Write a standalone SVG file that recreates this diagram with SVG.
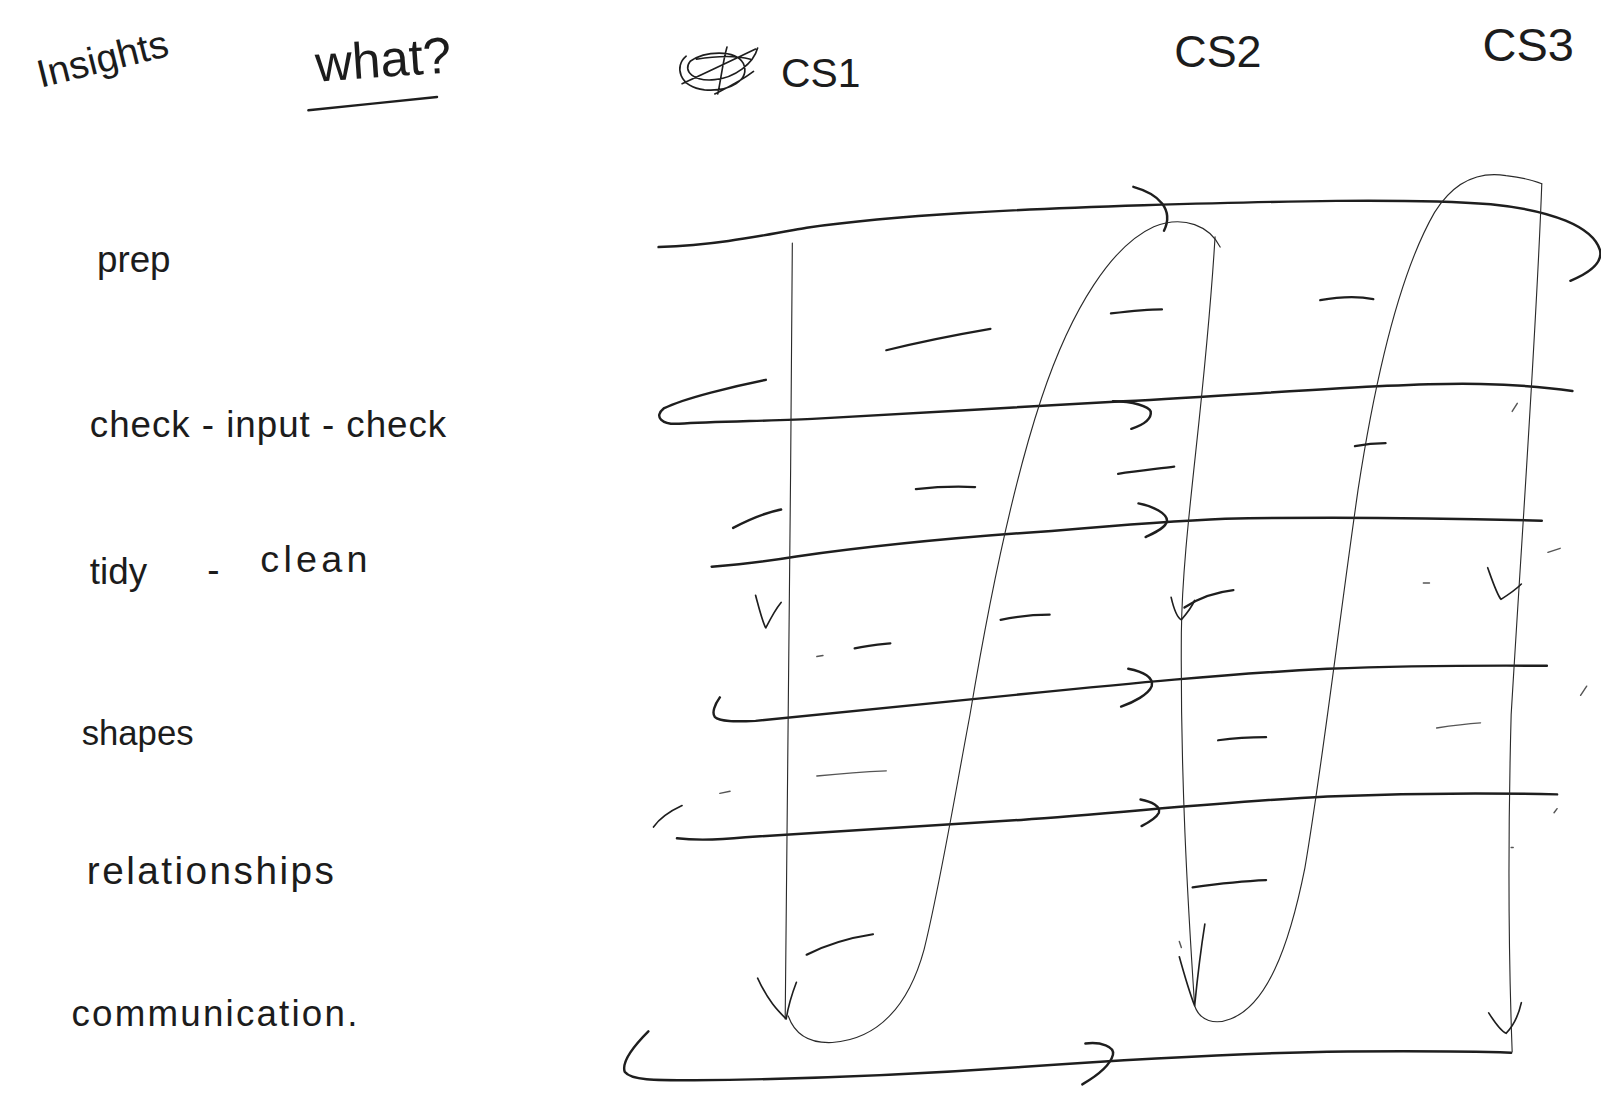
<svg xmlns="http://www.w3.org/2000/svg" width="1601" height="1117" viewBox="0 0 1601 1117">
<style>
.lbl{font-family:"Liberation Sans","DejaVu Sans",sans-serif;fill:#1c1c1c}
.thick{fill:none;stroke:#1e1e1e;stroke-width:2.4;stroke-linecap:round;stroke-linejoin:round}
.thin{fill:none;stroke:#2a2a2a;stroke-width:1.1;stroke-linecap:round;stroke-linejoin:round}
.mid{fill:none;stroke:#1e1e1e;stroke-width:1.6;stroke-linecap:round;stroke-linejoin:round}
.dash{fill:none;stroke:#1e1e1e;stroke-width:2.2;stroke-linecap:round}
.faint{fill:none;stroke:#555;stroke-width:1.4;stroke-linecap:round}
</style>
<rect width="1601" height="1117" fill="#ffffff"/>
<g transform="scale(1.02105)">
<g id="title-insights"><text class="lbl" x="40" y="86" font-size="38" transform="rotate(-14 40 86)">Insights</text></g>
<g id="title-what"><text class="lbl" x="310" y="80" font-size="50" transform="rotate(-4 310 80)">what?</text>
<path class="thick" d="M302,108 C340,104 390,99 428,95"/></g>
<g id="col-cs1">
<path class="mid" d="M672,55 C660,65 665,85 690,88 C715,90 735,78 728,62 C720,48 690,50 676,60 C668,70 680,80 700,78 C720,76 738,62 742,47 M668,82 C690,72 715,60 740,48 M712,46 C708,60 706,78 703,92 M700,92 C712,86 725,80 738,70 M682,58 C700,55 720,54 735,58"/>
<text class="lbl" x="765" y="85" font-size="40">CS1</text></g>
<g id="col-cs2"><text class="lbl" x="1150" y="66" font-size="44">CS2</text></g>
<g id="col-cs3"><text class="lbl" x="1452" y="60" font-size="46">CS3</text></g>
<g id="row-prep"><text class="lbl" x="95" y="266" font-size="36">prep</text></g>
<g id="row-check"><text class="lbl" x="88" y="428" font-size="36" textLength="349" lengthAdjust="spacing">check - input - check</text></g>
<g id="row-tidy"><text class="lbl" x="88" y="572" font-size="36">tidy</text><text class="lbl" x="203" y="570" font-size="36">-</text><text class="lbl" x="255" y="560" font-size="37" textLength="105" lengthAdjust="spacing">clean</text></g>
<g id="row-shapes"><text class="lbl" x="80" y="730" font-size="34">shapes</text></g>
<g id="row-relationships"><text class="lbl" x="85" y="866" font-size="38" textLength="242" lengthAdjust="spacing">relationships</text></g>
<g id="row-communication"><text class="lbl" x="70" y="1005" font-size="36" textLength="280" lengthAdjust="spacing">communication.</text></g>

<g id="connectors">
<path class="thick" d="M645,242 C700,240 740,232 790,223 C880,210 1000,205 1120,201 C1250,197 1380,194 1460,200 C1520,206 1560,222 1567,245 C1570,258 1555,268 1538,275"/>
<path class="thick" d="M1110,183 C1135,190 1150,205 1140,226"/>
<path class="thick" d="M750,372 C720,378 670,390 650,400 C640,408 648,416 665,415 C700,413 760,412 800,410 C900,405 1000,398 1100,393 C1250,385 1380,374 1450,376 C1490,377 1520,380 1540,383"/>
<path class="thick" d="M1090,393 C1110,393 1125,398 1127,403 C1128,410 1120,416 1108,420"/>
<path class="thick" d="M718,517 C735,508 750,502 765,499"/>
<path class="thick" d="M697,555 C720,553 750,550 780,545 C850,535 940,526 1030,520 C1100,514 1150,510 1200,508 C1300,506 1400,507 1510,510"/>
<path class="thick" d="M1115,493 C1130,496 1143,503 1143,510 C1142,517 1130,522 1122,526"/>
<path class="thick" d="M705,683 C700,690 697,698 700,702 C705,707 720,707 740,706 C800,700 900,690 1000,680 C1100,670 1200,660 1300,655 C1400,651 1480,652 1515,652"/>
<path class="thick" d="M1105,655 C1120,658 1130,663 1128,672 C1125,680 1110,688 1098,692"/>
<path class="mid" d="M668,789 C655,795 645,803 640,810"/>
<path class="thick" d="M663,821 C680,823 700,823 730,820 C800,815 900,810 1000,803 C1100,796 1200,785 1300,780 C1400,776 1480,777 1525,778"/>
<path class="thick" d="M1117,783 C1128,785 1137,790 1135,796 C1132,802 1124,806 1118,809"/>
<path class="thick" d="M635,1010 C620,1025 608,1040 612,1050 C618,1058 640,1058 680,1058 C780,1057 900,1052 1000,1045 C1100,1038 1200,1032 1300,1030 C1400,1029 1450,1030 1480,1031"/>
<path class="thick" d="M1063,1022 C1078,1020 1092,1025 1090,1033 C1087,1045 1072,1055 1060,1062"/>
<path class="thin" d="M776,238 C774,500 772,800 769,998"/>
<path class="mid" d="M740,583 C744,598 747,610 750,615 C755,605 760,596 765,590"/>
<path class="mid" d="M742,958 C752,980 762,990 770,998 C772,985 775,975 780,962"/>
<path class="thin" d="M772,995 C778,1012 792,1022 815,1021 C860,1018 890,985 905,930 C920,870 935,780 950,700 C965,610 990,480 1020,390 C1050,300 1090,240 1130,222 C1160,210 1185,222 1195,242"/>
<path class="thin" d="M1190,232 C1180,400 1158,520 1157,620 C1156,760 1163,880 1170,985"/>
<path class="mid" d="M1147,585 C1150,598 1153,605 1157,607 C1163,600 1167,595 1170,588"/>
<path class="mid" d="M1155,937 C1160,955 1165,972 1170,985 C1173,955 1176,930 1180,905"/>
<path class="thin" d="M1170,985 C1175,1000 1190,1004 1205,998 C1240,985 1262,930 1278,850 C1295,750 1310,620 1330,480 C1350,350 1375,260 1405,208 C1425,176 1450,168 1475,172 C1492,174 1503,177 1510,180"/>
<path class="thin" d="M1510,180 C1505,320 1492,500 1480,700 C1476,850 1478,950 1481,1030"/>
<path class="mid" d="M1457,556 C1462,570 1466,582 1470,587 C1478,582 1485,577 1490,572"/>
<path class="mid" d="M1458,992 C1465,1003 1470,1010 1475,1012 C1482,1005 1487,995 1490,982"/>
</g>
<g id="cell-marks">
<path class="dash" d="M868,343 C900,335 935,328 970,322"/>
<path class="dash" d="M1088,307 C1105,305 1125,303 1138,303"/>
<path class="dash" d="M1293,294 C1310,291 1330,290 1345,293"/>
<path class="dash" d="M897,479 C915,477 935,476 955,477"/>
<path class="dash" d="M1095,464 C1115,461 1135,459 1150,457"/>
<path class="dash" d="M1327,437 C1337,435 1347,434 1357,434"/>
<path class="faint" d="M1481,403 L1486,395"/>
<path class="dash" d="M980,607 C995,604 1012,602 1028,602"/>
<path class="dash" d="M1160,595 C1175,585 1190,580 1208,578"/>
<path class="faint" d="M800,643 L806,642"/>
<path class="dash" d="M837,635 C850,632 862,631 872,630"/>
<path class="faint" d="M1394,571 L1400,571"/>
<path class="faint" d="M1516,541 L1528,537"/>
<path class="dash" d="M1193,725 C1208,723 1225,722 1240,722"/>
<path class="faint" d="M1407,713 C1420,711 1435,709 1450,708"/>
<path class="faint" d="M1548,681 L1554,672"/>
<path class="faint" d="M800,760 C820,758 845,756 868,755"/>
<path class="faint" d="M705,777 L715,775"/>
<path class="faint" d="M1522,796 L1525,792"/>
<path class="dash" d="M1168,869 C1190,866 1215,863 1240,862"/>
<path class="dash" d="M790,935 C810,925 835,918 855,915"/>
<path class="faint" d="M1480,830 L1482,830"/>
<path class="faint" d="M1155,922 L1157,928"/>
</g>
</g>
</svg>
